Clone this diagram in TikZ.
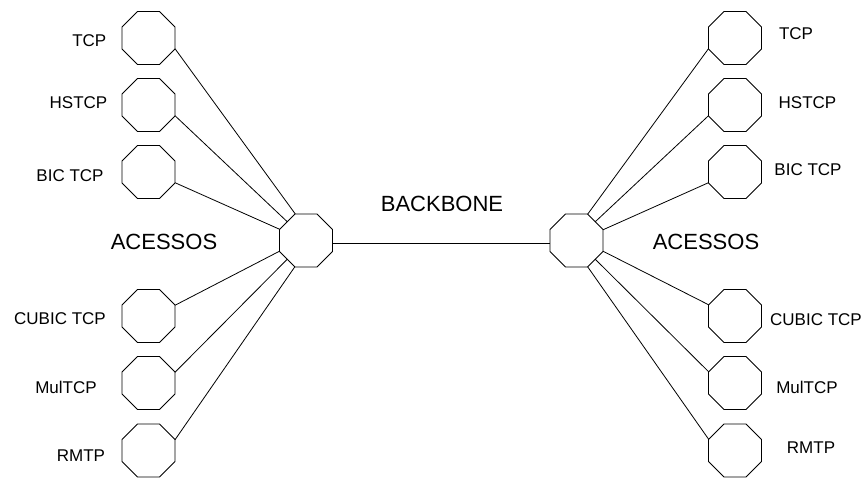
\documentclass[tikz,border=0pt]{standalone}
\usepackage{fontspec}
\setmainfont{Liberation Sans}
\usetikzlibrary{shapes.geometric}
\begin{document}
\begin{tikzpicture}[x=1pt,y=1pt,
  oct/.style={draw, line width=0.9pt, regular polygon, regular polygon sides=8,
    minimum size=57.4pt, inner sep=0pt, outer sep=0pt},
  link/.style={line width=0.8pt},
  small/.style={font=\fontsize{17}{19}\selectfont, inner sep=0pt},
  big/.style={font=\fontsize{22}{25}\selectfont, inner sep=0pt}]
\useasboundingbox (0,0) rectangle (865,478);
% hubs
\node[oct] (L) at (306,237.5) {};
\node[oct] (R) at (576.5,237.5) {};
% left access octagons
\node[oct] (l1) at (148.5,440) {};
\node[oct] (l2) at (148.5,373) {};
\node[oct] (l3) at (148.5,306) {};
\node[oct] (l4) at (148.5,162) {};
\node[oct] (l5) at (148.5,95) {};
\node[oct] (l6) at (148.5,27.5) {};
% right access octagons
\node[oct] (r1) at (735,440) {};
\node[oct] (r2) at (735,373) {};
\node[oct] (r3) at (735,306) {};
\node[oct] (r4) at (735,162) {};
\node[oct] (r5) at (735,95) {};
\node[oct] (r6) at (735,27.5) {};
% labels
\node[small] (tl1) at (89.3,437) {TCP};
\node[small] (tl2) at (78.5,375.5) {HSTCP};
\node[small] (tl3) at (70,302) {BIC TCP};
\node[small] (tl4) at (60,159) {CUBIC TCP};
\node[small] (tl5) at (66,91) {MulTCP};
\node[small] (tl6) at (81,22) {RMTP};
\node[small] (tr1) at (796,444) {TCP};
\node[small] (tr2) at (807.5,375.5) {HSTCP};
\node[small] (tr3) at (808,308) {BIC TCP};
\node[small] (tr4) at (816,158.5) {CUBIC TCP};
\node[small] (tr5) at (807,91) {MulTCP};
\node[small] (tr6) at (811,30) {RMTP};
\node[big] (accL) at (164,236.5) {ACESSOS};
\node[big] (bb) at (442,274) {BACKBONE};
\node[big] (accR) at (706,236.5) {ACESSOS};
% connectors
\draw[link] (L.-7) -- (R.187);
\draw[link] (l1.-22.5) -- (L.112.5);
\draw[link] (l2.-22.5) -- (L.135);
\draw[link] (l3.-22.5) -- (L.157.5);
\draw[link] (l4.22.5) -- (L.202.5);
\draw[link] (l5.22.5) -- (L.225);
\draw[link] (l6.22.5) -- (L.247.5);
\draw[link] (r1.202.5) -- (R.67.5);
\draw[link] (r2.202.5) -- (R.45);
\draw[link] (r3.202.5) -- (R.22.5);
\draw[link] (r4.157.5) -- (R.-22.5);
\draw[link] (r5.157.5) -- (R.-45);
\draw[link] (r6.157.5) -- (R.-67.5);
\end{tikzpicture}
\end{document}
